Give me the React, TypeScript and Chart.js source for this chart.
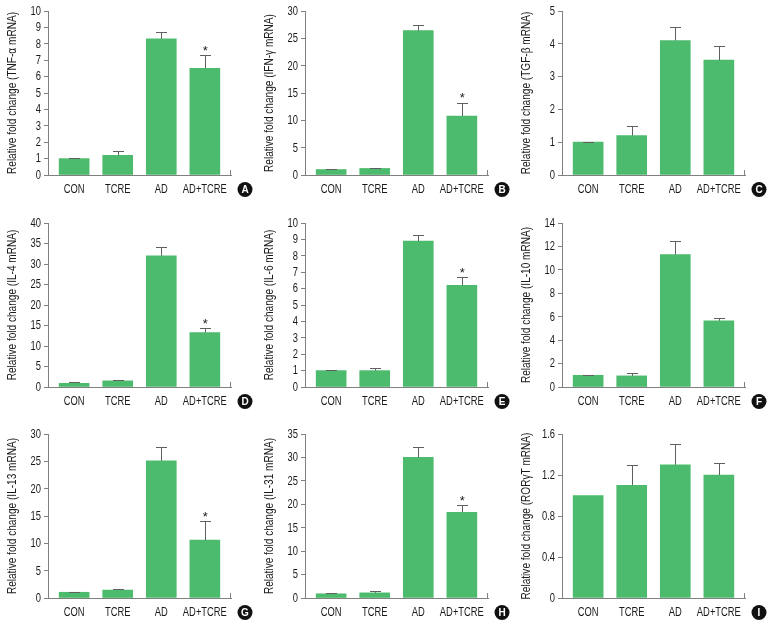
import React, { useEffect, useRef } from "react";
import { Chart, registerables } from "chart.js";

Chart.register(...registerables);

const categories = ["CON", "TCRE", "AD", "AD+TCRE"];

const panelLetters = ["A", "B", "C", "D", "E", "F", "G", "H", "I"];

const yTitles = [
  "Relative fold change (TNF-α mRNA)",
  "Relative fold change (IFN-γ mRNA)",
  "Relative fold change (TGF-β mRNA)",
  "Relative fold change (IL-4 mRNA)",
  "Relative fold change (IL-6 mRNA)",
  "Relative fold change (IL-10 mRNA)",
  "Relative fold change (IL-13 mRNA)",
  "Relative fold change (IL-31 mRNA)",
  "Relative fold change (RORγT mRNA)",
];

// means
const tnfValues = [1.0, 1.2, 8.3, 6.5];
const ifnValues = [1.0, 1.2, 26.4, 10.8];
const tgfValues = [1.0, 1.2, 4.1, 3.5];
const il4Values = [0.9, 1.5, 32.0, 13.3];
const il6Values = [1.0, 1.0, 8.9, 6.2];
const il10Values = [1.0, 0.95, 11.3, 5.65];
const il13Values = [1.05, 1.45, 25.1, 10.6];
const il31Values = [0.9, 1.1, 30.0, 18.3];
const rorValues = [1.0, 1.1, 1.3, 1.2];

// error (upper SEM)
const tnfErrors = [0.05, 0.28, 0.42, 0.8];
const ifnErrors = [0.15, 0.15, 1.1, 2.4];
const tgfErrors = [0.02, 0.3, 0.4, 0.42];
const il4Errors = [0.3, 0.25, 2.2, 1.1];
const il6Errors = [0.04, 0.18, 0.36, 0.5];
const il10Errors = [0.06, 0.27, 1.15, 0.25];
const il13Errors = [0.12, 0.2, 2.6, 3.4];
const il31Errors = [0.2, 0.3, 2.2, 1.5];
const rorErrors = [0, 0.2, 0.2, 0.12];

// significance markers (asterisk on AD+TCRE)
const tnfStars = [false, false, false, true];
const ifnStars = [false, false, false, true];
const tgfStars = [false, false, false, false];
const il4Stars = [false, false, false, true];
const il6Stars = [false, false, false, true];
const il10Stars = [false, false, false, false];
const il13Stars = [false, false, false, true];
const il31Stars = [false, false, false, true];
const rorStars = [false, false, false, false];

// y tick labels
const tnfTicks = [0, 1, 2, 3, 4, 5, 6, 7, 8, 9, 10];
const ifnTicks = [0, 5, 10, 15, 20, 25, 30];
const tgfTicks = [0, 1, 2, 3, 4, 5];
const il4Ticks = [0, 5, 10, 15, 20, 25, 30, 35, 40];
const il6Ticks = [0, 1, 2, 3, 4, 5, 6, 7, 8, 9, 10];
const il10Ticks = [0, 2, 4, 6, 8, 10, 12, 14];
const il13Ticks = [0, 5, 10, 15, 20, 25, 30];
const il31Ticks = [0, 5, 10, 15, 20, 25, 30, 35];
const rorTicks = [0, 0.4, 0.8, 1.2, 1.6];

const panelValues = [tnfValues, ifnValues, tgfValues, il4Values, il6Values, il10Values, il13Values, il31Values, rorValues];
const panelErrors = [tnfErrors, ifnErrors, tgfErrors, il4Errors, il6Errors, il10Errors, il13Errors, il31Errors, rorErrors];
const panelStars = [tnfStars, ifnStars, tgfStars, il4Stars, il6Stars, il10Stars, il13Stars, il31Stars, rorStars];
const panelTicks = [tnfTicks, ifnTicks, tgfTicks, il4Ticks, il6Ticks, il10Ticks, il13Ticks, il31Ticks, rorTicks];

const BAR_COLOR = "#4dbb6d";
const AXIS_COLOR = "#808080";
const TEXT_COLOR = "#1a1a1a";
const FAMILY = "'Liberation Sans', Arial, Roboto, sans-serif";
const LABEL_SIZE = 12.2;
const TITLE_SIZE = 12;

const CANVAS_W = 257;
const CANVAS_H = 212;
const ROW_TOPS = [0, 212, 423];

type Squeeze = { label: number; title: number };
let squeezeCache: Squeeze | null = null;

function getSqueeze(ctx: CanvasRenderingContext2D): Squeeze {
  if (squeezeCache) return squeezeCache;
  ctx.save();
  ctx.font = `${LABEL_SIZE}px ${FAMILY}`;
  const wl = ctx.measureText("AD+TCRE").width;
  ctx.font = `${TITLE_SIZE}px ${FAMILY}`;
  const wt = ctx.measureText(yTitles[0]).width;
  ctx.restore();
  squeezeCache = {
    label: Math.min(1, 44 / wl),
    title: Math.min(1.1, 162 / wt),
  };
  return squeezeCache;
}

function squeezedText(
  ctx: CanvasRenderingContext2D,
  text: string,
  x: number,
  y: number,
  sx: number,
  align: CanvasTextAlign,
  rotate = 0
) {
  ctx.save();
  ctx.translate(x, y);
  if (rotate) ctx.rotate(rotate);
  ctx.scale(sx, 1);
  ctx.textAlign = align;
  ctx.textBaseline = "middle";
  ctx.fillText(text, 0, 0);
  ctx.restore();
}

const decorPlugin = {
  id: "decor",
  afterDatasetsDraw(chart: any, _args: any, opts: any) {
    const ctx: CanvasRenderingContext2D = chart.ctx;
    const x = chart.scales.x;
    const y = chart.scales.y;
    const area = chart.chartArea;
    const values: number[] = opts.values;
    const errors: number[] = opts.errors;
    const stars: boolean[] = opts.stars;
    const ticks: number[] = opts.ticks;
    const sq = getSqueeze(ctx);
    ctx.save();
    values.forEach((v, i) => {
      const px = x.getPixelForValue(i);
      const pyTop = y.getPixelForValue(v);
      const pyErr = y.getPixelForValue(v + errors[i]);
      if (errors[i] > 0) {
        ctx.strokeStyle = "#606060";
        ctx.lineWidth = 1;
        ctx.beginPath();
        ctx.moveTo(Math.round(px) + 0.5, pyTop);
        ctx.lineTo(Math.round(px) + 0.5, Math.round(pyErr) + 0.5);
        ctx.moveTo(Math.round(px) - 5, Math.round(pyErr) + 0.5);
        ctx.lineTo(Math.round(px) + 6, Math.round(pyErr) + 0.5);
        ctx.stroke();
      }
      ctx.fillStyle = TEXT_COLOR;
      if (stars[i]) {
        ctx.font = `13px ${FAMILY}`;
        squeezedText(ctx, "*", px + 0.5, pyErr - 4, 1, "center");
      }
      // category label
      ctx.font = `${LABEL_SIZE}px ${FAMILY}`;
      squeezedText(ctx, categories[i], px, area.bottom + 14.5, sq.label, "center");
    });
    // y tick labels
    ctx.fillStyle = TEXT_COLOR;
    ctx.font = `${LABEL_SIZE}px ${FAMILY}`;
    ticks.forEach((t) => {
      const py = y.getPixelForValue(t);
      squeezedText(ctx, String(t), area.left - 7, py + 0.5, sq.label, "right");
    });
    // y title
    ctx.font = `${TITLE_SIZE}px ${FAMILY}`;
    squeezedText(
      ctx,
      opts.title,
      12.5,
      (area.top + area.bottom) / 2,
      sq.title,
      "center",
      -Math.PI / 2
    );
    // small end tick on x axis
    ctx.strokeStyle = AXIS_COLOR;
    ctx.lineWidth = 1;
    ctx.beginPath();
    ctx.moveTo(Math.round(area.right) - 0.5, area.bottom);
    ctx.lineTo(Math.round(area.right) - 0.5, area.bottom - 5);
    ctx.stroke();
    // panel letter circle
    const cx = area.right + 14;
    const cy = area.bottom + 14.5;
    ctx.fillStyle = "#111111";
    ctx.beginPath();
    ctx.arc(cx, cy, 7.5, 0, Math.PI * 2);
    ctx.fill();
    ctx.fillStyle = "#ffffff";
    ctx.font = `bold 10px ${FAMILY}`;
    ctx.textAlign = "center";
    ctx.textBaseline = "middle";
    ctx.fillText(opts.letter, cx, cy + 0.5);
    ctx.restore();
  },
};

function Panel({ index }: { index: number }) {
  const ref = useRef<HTMLCanvasElement | null>(null);
  useEffect(() => {
    if (!ref.current) return;
    const values = panelValues[index];
    const ticks = panelTicks[index];
    const chart = new Chart(ref.current, {
      type: "bar",
      data: {
        datasets: [
          {
            data: values.map((v, i) => ({ x: i, y: v })),
            backgroundColor: BAR_COLOR,
            borderWidth: 0,
            barThickness: 30,
          },
        ],
      },
      options: {
        animation: false,
        responsive: false,
        maintainAspectRatio: false,
        events: [],
        layout: { padding: { top: 11, right: 26, left: 0, bottom: 0 } },
        plugins: {
          legend: { display: false },
          tooltip: { enabled: false },
          decor: {
            values,
            errors: panelErrors[index],
            stars: panelStars[index],
            letter: panelLetters[index],
            ticks,
            title: yTitles[index],
          },
        } as any,
        scales: {
          x: {
            type: "linear",
            min: -0.6,
            max: 3.6,
            offset: false,
            afterBuildTicks: (scale: any) => {
              scale.ticks = categories.map((_, i) => ({ value: i }));
            },
            afterFit: (scale: any) => {
              scale.height = 37;
            },
            grid: { display: false, drawTicks: false },
            border: { display: true, color: AXIS_COLOR, width: 1 },
            ticks: { display: false },
          },
          y: {
            type: "linear",
            min: ticks[0],
            max: ticks[ticks.length - 1],
            afterBuildTicks: (scale: any) => {
              scale.ticks = ticks.map((t) => ({ value: t }));
            },
            afterFit: (scale: any) => {
              scale.width = 48;
            },
            grid: {
              display: true,
              drawOnChartArea: false,
              drawTicks: true,
              tickLength: 4,
              color: AXIS_COLOR,
            },
            border: { display: true, color: AXIS_COLOR, width: 1 },
            ticks: { display: false },
          },
        },
      },
      plugins: [decorPlugin],
    });
    return () => chart.destroy();
  }, [index]);
  const col = index % 3;
  const row = Math.floor(index / 3);
  return (
    <canvas
      ref={ref}
      width={CANVAS_W}
      height={CANVAS_H}
      style={{
        position: "absolute",
        left: col * CANVAS_W,
        top: ROW_TOPS[row],
        width: CANVAS_W,
        height: CANVAS_H,
      }}
    />
  );
}

export default function App() {
  return (
    <div
      style={{
        position: "fixed",
        left: 0,
        top: 0,
        width: 773,
        height: 626,
        background: "#ffffff",
        overflow: "hidden",
      }}
    >
      {panelValues.map((_, i) => (
        <Panel key={i} index={i} />
      ))}
    </div>
  );
}
